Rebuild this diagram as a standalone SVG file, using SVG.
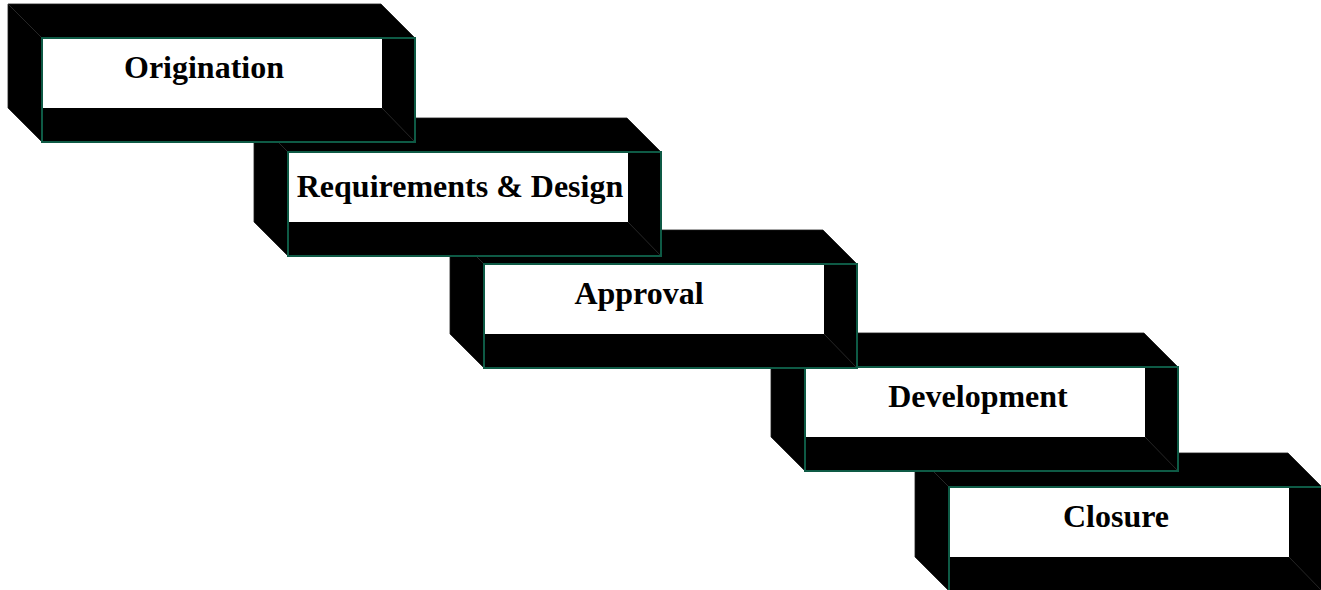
<svg xmlns="http://www.w3.org/2000/svg" width="1321" height="590" viewBox="0 0 1321 590">
  <defs>
    <style>
      .body { fill: #000; stroke: #1a1a1a; stroke-width: 0.8; }
      .window { fill: #fff; }
      .edge { fill: none; stroke: #262626; stroke-width: 1; }
      .front { fill: none; stroke: #0e5a45; stroke-width: 2; }
      .label { font-family: "Liberation Serif", "Times New Roman", serif; font-weight: bold; font-size: 32px; fill: #000; text-anchor: middle; }
    </style>
    <!-- One frame-shaped box; local origin is the front face's top-left corner -->
    <g id="box">
      <polygon class="body" points="-34,-34 339,-34 373,0 373,104 0,104 -34,70"/>
      <rect class="window" x="0" y="0" width="340" height="70"/>
      <line class="edge" x1="-34" y1="-34" x2="0" y2="0"/>
      <line class="edge" x1="340" y1="70" x2="373" y2="104"/>
      <rect class="front" x="0" y="0" width="373" height="104"/>
    </g>
  </defs>

  <!-- Later steps are drawn first so that each earlier step sits on top -->
  <g id="step-closure">
    <use href="#box" x="949" y="487"/>
    <text class="label" x="1116" y="527">Closure</text>
  </g>
  <g id="step-development">
    <use href="#box" x="805" y="367"/>
    <text class="label" x="978" y="407">Development</text>
  </g>
  <g id="step-approval">
    <use href="#box" x="484" y="264"/>
    <text class="label" x="639" y="304">Approval</text>
  </g>
  <g id="step-requirements">
    <use href="#box" x="288" y="152"/>
    <text class="label" x="460" y="197">Requirements &amp; Design</text>
  </g>
  <g id="step-origination">
    <use href="#box" x="42" y="38"/>
    <text class="label" x="204" y="78">Origination</text>
  </g>

  <g id="connectors"></g>
</svg>
